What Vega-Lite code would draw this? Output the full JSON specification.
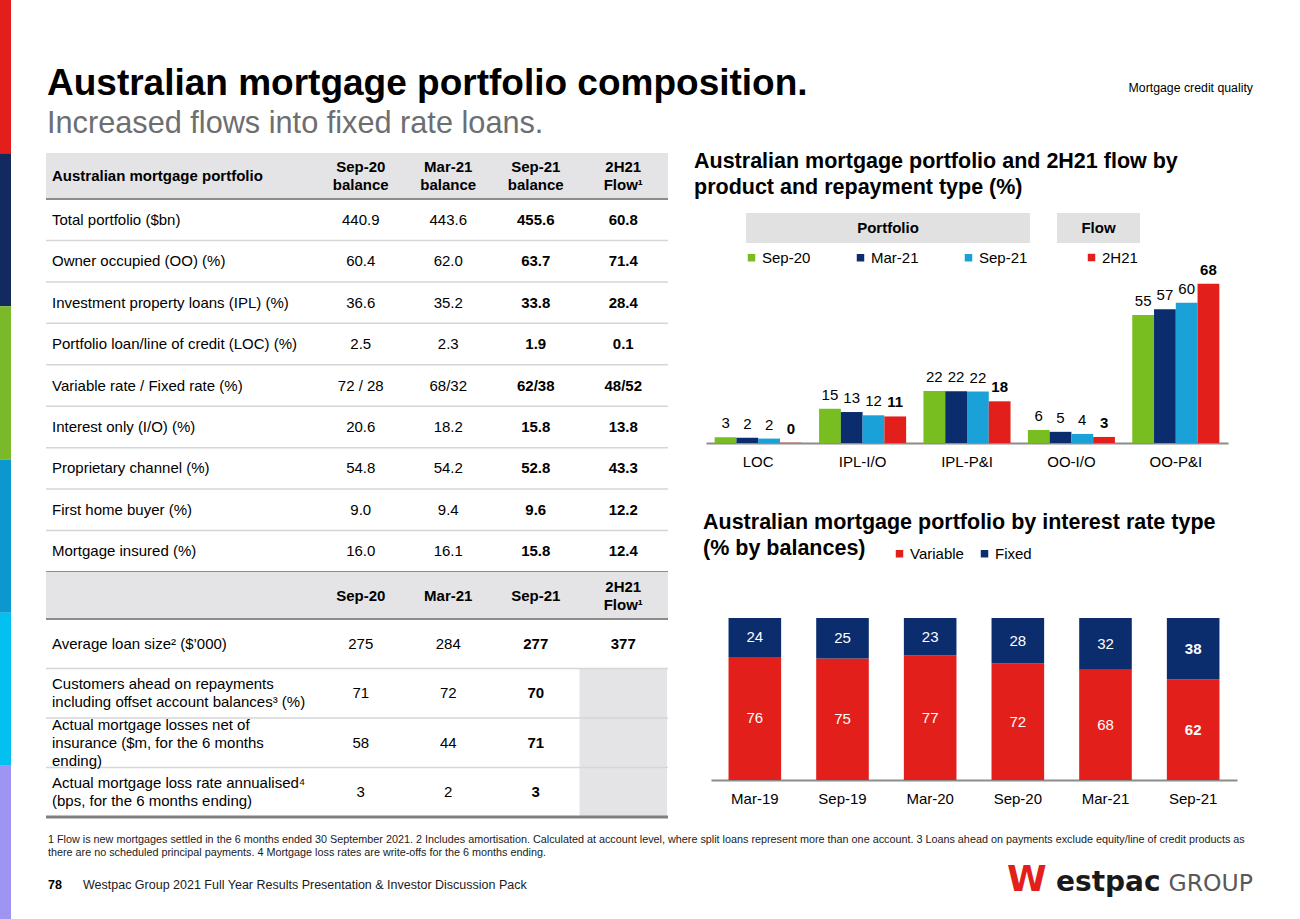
{
  "$schema": "https://vega.github.io/schema/vega-lite/v6.json",
  "background": "white",
  "padding": 0,
  "config": {
    "font": "Liberation Sans",
    "view": {"stroke": null},
    "text": {"font": "Liberation Sans", "color": "#000000"},
    "axis": {"labelFont": "Liberation Sans", "labelFontSize": 15, "labelColor": "#000000", "ticks": false, "grid": false, "domainColor": "#8c8c8c", "domainWidth": 2, "labelPadding": 11},
    "legend": {"labelFont": "Liberation Sans", "labelFontSize": 15, "labelColor": "#000000", "symbolType": "square", "symbolSize": 56, "symbolStrokeWidth": 0, "padding": 0, "labelOffset": 3}
  },
  "spacing": 33,
  "bounds": "full",
  "resolve": {"scale": {"color": "independent"}},
  "hconcat": [
    {
      "width": 11,
      "height": 919,
      "data": {"values": [{"seg": "a"}, {"seg": "b"}, {"seg": "c"}, {"seg": "d"}, {"seg": "e"}, {"seg": "f"}]},
      "mark": {"type": "rect"},
      "encoding": {
        "y": {"field": "seg", "type": "nominal", "axis": null, "scale": {"paddingInner": 0, "paddingOuter": 0}},
        "color": {"field": "seg", "type": "nominal", "legend": null, "scale": {"domain": ["a", "b", "c", "d", "e", "f"], "range": ["#e41f1b", "#132a5e", "#7ab929", "#0a98cf", "#02c0ef", "#9e95f2"]}}
      }
    },
    {
      "resolve": {"scale": {"color": "independent"}},
      "spacing": 0,
      "bounds": "full",
      "vconcat": [
        {
          "width": 1208,
          "height": 151,
          "data": {"values": [
            {"part": "title", "text": "Australian mortgage portfolio composition."},
            {"part": "subtitle", "text": "Increased flows into fixed rate loans."},
            {"part": "tag", "text": "Mortgage credit quality"}
          ]},
          "layer": [
            {
              "transform": [{"filter": "datum.part == 'title'"}],
              "mark": {"type": "text", "align": "left", "baseline": "alphabetic", "fontSize": 37, "fontWeight": "bold"},
              "encoding": {
                "x": {"field": "part", "type": "nominal", "axis": null, "scale": {"type": "point", "domain": ["title"], "range": [1, 1]}},
                "y": {"field": "part", "type": "nominal", "axis": null, "scale": {"type": "point", "domain": ["title"], "range": [95, 95]}},
                "text": {"field": "text", "type": "nominal"}
              }
            },
            {
              "transform": [{"filter": "datum.part == 'subtitle'"}],
              "mark": {"type": "text", "align": "left", "baseline": "alphabetic", "fontSize": 30.7, "color": "#6d6e71"},
              "encoding": {
                "x": {"field": "part", "type": "nominal", "axis": null, "scale": {"type": "point", "domain": ["subtitle"], "range": [1, 1]}},
                "y": {"field": "part", "type": "nominal", "axis": null, "scale": {"type": "point", "domain": ["subtitle"], "range": [133, 133]}},
                "text": {"field": "text", "type": "nominal"}
              }
            },
            {
              "transform": [{"filter": "datum.part == 'tag'"}],
              "mark": {"type": "text", "align": "right", "baseline": "alphabetic", "fontSize": 12.3},
              "encoding": {
                "x": {"field": "part", "type": "nominal", "axis": null, "scale": {"type": "point", "domain": ["tag"], "range": [1207, 1207]}},
                "y": {"field": "part", "type": "nominal", "axis": null, "scale": {"type": "point", "domain": ["tag"], "range": [92, 92]}},
                "text": {"field": "text", "type": "nominal"}
              }
            }
          ],
          "resolve": {"scale": {"x": "independent", "y": "independent"}}
        },
        {
          "resolve": {"scale": {"color": "independent"}},
          "spacing": 24,
          "bounds": "full",
          "hconcat": [
            {
              "spacing": 0,
              "bounds": "flush",
              "vconcat": [
                {
                  "width": 622,
                  "height": 46,
                  "view": {"fill": "#e4e4e6", "stroke": null},
                  "data": {"values": [
                    {"col": "label", "text": "Australian mortgage portfolio"},
                    {"col": "Sep-20", "text": "Sep-20\nbalance"},
                    {"col": "Mar-21", "text": "Mar-21\nbalance"},
                    {"col": "Sep-21", "text": "Sep-21\nbalance"},
                    {"col": "Flow", "text": "2H21\nFlow¹"}
                  ]},
                  "layer": [
                    {
                      "transform": [{"filter": "datum.col == 'label'"}],
                      "mark": {"type": "text", "align": "left", "baseline": "middle", "fontSize": 15, "fontWeight": "bold"},
                      "encoding": {
                        "x": {"field": "col", "type": "nominal", "axis": null, "scale": {"type": "point", "domain": ["label"], "range": [6, 6]}},
                        "text": {"field": "text", "type": "nominal"}
                      }
                    },
                    {
                      "transform": [{"filter": "datum.col != 'label'"}],
                      "mark": {"type": "text", "align": "center", "baseline": "middle", "dy": -9, "fontSize": 15, "fontWeight": "bold", "lineBreak": "\n", "lineHeight": 18},
                      "encoding": {
                        "x": {"field": "col", "type": "nominal", "axis": null, "scale": {"type": "band", "domain": ["Sep-20", "Mar-21", "Sep-21", "Flow"], "range": [271, 621], "paddingInner": 0, "paddingOuter": 0}},
                        "text": {"field": "text", "type": "nominal"}
                      }
                    }
                  ],
                  "resolve": {"scale": {"x": "independent"}}
                },
                {
                  "width": 622,
                  "height": 373,
                  "data": {"values": [
                    {"row": "Total portfolio ($bn)", "s20": "440.9", "m21": "443.6", "s21": "455.6", "flow": "60.8"},
                    {"row": "Owner occupied (OO) (%)", "s20": "60.4", "m21": "62.0", "s21": "63.7", "flow": "71.4"},
                    {"row": "Investment property loans (IPL) (%)", "s20": "36.6", "m21": "35.2", "s21": "33.8", "flow": "28.4"},
                    {"row": "Portfolio loan/line of credit (LOC) (%)", "s20": "2.5", "m21": "2.3", "s21": "1.9", "flow": "0.1"},
                    {"row": "Variable rate / Fixed rate (%)", "s20": "72 / 28", "m21": "68/32", "s21": "62/38", "flow": "48/52"},
                    {"row": "Interest only (I/O) (%)", "s20": "20.6", "m21": "18.2", "s21": "15.8", "flow": "13.8"},
                    {"row": "Proprietary channel (%)", "s20": "54.8", "m21": "54.2", "s21": "52.8", "flow": "43.3"},
                    {"row": "First home buyer (%)", "s20": "9.0", "m21": "9.4", "s21": "9.6", "flow": "12.2"},
                    {"row": "Mortgage insured (%)", "s20": "16.0", "m21": "16.1", "s21": "15.8", "flow": "12.4"}
                  ]},
                  "encoding": {
                    "y": {"field": "row", "type": "nominal", "axis": null, "scale": {"domain": ["Total portfolio ($bn)", "Owner occupied (OO) (%)", "Investment property loans (IPL) (%)", "Portfolio loan/line of credit (LOC) (%)", "Variable rate / Fixed rate (%)", "Interest only (I/O) (%)", "Proprietary channel (%)", "First home buyer (%)", "Mortgage insured (%)"], "paddingInner": 0, "paddingOuter": 0}}
                  },
                  "layer": [
                    {
                      "mark": {"type": "rule"},
                      "encoding": {
                        "y": {"field": "row", "type": "nominal", "axis": null, "bandPosition": 0, "scale": {"domain": ["Total portfolio ($bn)", "Owner occupied (OO) (%)", "Investment property loans (IPL) (%)", "Portfolio loan/line of credit (LOC) (%)", "Variable rate / Fixed rate (%)", "Interest only (I/O) (%)", "Proprietary channel (%)", "First home buyer (%)", "Mortgage insured (%)"], "paddingInner": 0, "paddingOuter": 0}},
                        "color": {"condition": {"test": "datum.row == 'Total portfolio ($bn)'", "value": "#8c8c8c"}, "value": "#d6d6d6"},
                        "strokeWidth": {"condition": {"test": "datum.row == 'Total portfolio ($bn)'", "value": 2}, "value": 1.5}
                      }
                    },
                    {
                      "mark": {"type": "rule", "color": "#8c8c8c", "strokeWidth": 2},
                      "encoding": {
                        "y": {"field": "row", "type": "nominal", "axis": null, "bandPosition": 1, "scale": {"domain": ["Total portfolio ($bn)", "Owner occupied (OO) (%)", "Investment property loans (IPL) (%)", "Portfolio loan/line of credit (LOC) (%)", "Variable rate / Fixed rate (%)", "Interest only (I/O) (%)", "Proprietary channel (%)", "First home buyer (%)", "Mortgage insured (%)"], "paddingInner": 0, "paddingOuter": 0}},
                        "opacity": {"condition": {"test": "datum.row == 'Mortgage insured (%)'", "value": 1}, "value": 0}
                      }
                    },
                    {
                      "mark": {"type": "text", "align": "left", "baseline": "middle", "fontSize": 15},
                      "encoding": {
                        "x": {"datum": "label", "type": "nominal", "axis": null, "scale": {"type": "point", "domain": ["label"], "range": [6, 6]}},
                        "text": {"field": "row", "type": "nominal"}
                      }
                    },
                    {
                      "layer": [
                        {"mark": {"type": "text", "baseline": "middle", "fontSize": 15}, "encoding": {"x": {"datum": "Sep-20", "type": "nominal", "axis": null, "scale": {"type": "band", "domain": ["Sep-20", "Mar-21", "Sep-21", "Flow"], "range": [271, 621], "paddingInner": 0, "paddingOuter": 0}}, "text": {"field": "s20", "type": "nominal"}}},
                        {"mark": {"type": "text", "baseline": "middle", "fontSize": 15}, "encoding": {"x": {"datum": "Mar-21", "type": "nominal", "axis": null, "scale": {"type": "band", "domain": ["Sep-20", "Mar-21", "Sep-21", "Flow"], "range": [271, 621], "paddingInner": 0, "paddingOuter": 0}}, "text": {"field": "m21", "type": "nominal"}}},
                        {"mark": {"type": "text", "baseline": "middle", "fontSize": 15, "fontWeight": "bold"}, "encoding": {"x": {"datum": "Sep-21", "type": "nominal", "axis": null, "scale": {"type": "band", "domain": ["Sep-20", "Mar-21", "Sep-21", "Flow"], "range": [271, 621], "paddingInner": 0, "paddingOuter": 0}}, "text": {"field": "s21", "type": "nominal"}}},
                        {"mark": {"type": "text", "baseline": "middle", "fontSize": 15, "fontWeight": "bold"}, "encoding": {"x": {"datum": "Flow", "type": "nominal", "axis": null, "scale": {"type": "band", "domain": ["Sep-20", "Mar-21", "Sep-21", "Flow"], "range": [271, 621], "paddingInner": 0, "paddingOuter": 0}}, "text": {"field": "flow", "type": "nominal"}}}
                      ]
                    }
                  ],
                  "resolve": {"scale": {"x": "independent"}}
                },
                {
                  "width": 622,
                  "height": 47,
                  "view": {"fill": "#e4e4e6", "stroke": null},
                  "data": {"values": [
                    {"col": "Sep-20", "text": "Sep-20"},
                    {"col": "Mar-21", "text": "Mar-21"},
                    {"col": "Sep-21", "text": "Sep-21"},
                    {"col": "Flow", "text": "2H21\nFlow¹"}
                  ]},
                  "encoding": {
                    "x": {"field": "col", "type": "nominal", "axis": null, "scale": {"type": "band", "domain": ["Sep-20", "Mar-21", "Sep-21", "Flow"], "range": [271, 621], "paddingInner": 0, "paddingOuter": 0}},
                    "text": {"field": "text", "type": "nominal"}
                  },
                  "layer": [
                    {"transform": [{"filter": "datum.col != 'Flow'"}], "mark": {"type": "text", "align": "center", "baseline": "middle", "fontSize": 15, "fontWeight": "bold"}},
                    {"transform": [{"filter": "datum.col == 'Flow'"}], "mark": {"type": "text", "align": "center", "baseline": "middle", "dy": -9, "fontSize": 15, "fontWeight": "bold", "lineBreak": "\n", "lineHeight": 18}}
                  ]
                },
                {
                  "width": 622,
                  "height": 198,
                  "data": {"values": [
                    {"row": "Average loan size² ($’000)", "s20": "275", "m21": "284", "s21": "277", "flow": "377"},
                    {"row": "Customers ahead on repayments\nincluding offset account balances³ (%)", "s20": "71", "m21": "72", "s21": "70", "flow": null},
                    {"row": "Actual mortgage losses net of\ninsurance ($m, for the 6 months\nending)", "s20": "58", "m21": "44", "s21": "71", "flow": null},
                    {"row": "Actual mortgage loss rate annualised⁴\n(bps, for the 6 months ending)", "s20": "3", "m21": "2", "s21": "3", "flow": null}
                  ]},
                  "encoding": {
                    "y": {"field": "row", "type": "nominal", "axis": null, "scale": {"domain": ["Average loan size² ($’000)", "Customers ahead on repayments\nincluding offset account balances³ (%)", "Actual mortgage losses net of\ninsurance ($m, for the 6 months\nending)", "Actual mortgage loss rate annualised⁴\n(bps, for the 6 months ending)"], "paddingInner": 0, "paddingOuter": 0}}
                  },
                  "layer": [
                    {
                      "transform": [{"filter": "datum.flow == null"}],
                      "mark": {"type": "rect", "color": "#e4e4e6"},
                      "encoding": {
                        "x": {"datum": "Flow", "type": "nominal", "axis": null, "scale": {"type": "band", "domain": ["Sep-20", "Mar-21", "Sep-21", "Flow"], "range": [271, 621], "paddingInner": 0, "paddingOuter": 0}}
                      }
                    },
                    {
                      "mark": {"type": "rule"},
                      "encoding": {
                        "y": {"field": "row", "type": "nominal", "axis": null, "bandPosition": 0, "scale": {"domain": ["Average loan size² ($’000)", "Customers ahead on repayments\nincluding offset account balances³ (%)", "Actual mortgage losses net of\ninsurance ($m, for the 6 months\nending)", "Actual mortgage loss rate annualised⁴\n(bps, for the 6 months ending)"], "paddingInner": 0, "paddingOuter": 0}},
                        "color": {"condition": {"test": "indexof(datum.row, 'Average') == 0", "value": "#8c8c8c"}, "value": "#d6d6d6"},
                        "strokeWidth": {"condition": {"test": "indexof(datum.row, 'Average') == 0", "value": 2}, "value": 1.5}
                      }
                    },
                    {
                      "mark": {"type": "rule", "color": "#808080", "strokeWidth": 3},
                      "encoding": {
                        "y": {"field": "row", "type": "nominal", "axis": null, "bandPosition": 1, "scale": {"domain": ["Average loan size² ($’000)", "Customers ahead on repayments\nincluding offset account balances³ (%)", "Actual mortgage losses net of\ninsurance ($m, for the 6 months\nending)", "Actual mortgage loss rate annualised⁴\n(bps, for the 6 months ending)"], "paddingInner": 0, "paddingOuter": 0}},
                        "opacity": {"condition": {"test": "indexof(datum.row, 'loss rate') >= 0", "value": 1}, "value": 0}
                      }
                    },
                    {
                      "encoding": {
                        "x": {"datum": "label", "type": "nominal", "axis": null, "scale": {"type": "point", "domain": ["label"], "range": [6, 6]}},
                        "text": {"field": "row", "type": "nominal"}
                      },
                      "layer": [
                        {"transform": [{"filter": "length(split(datum.row, '\\n')) == 1"}], "mark": {"type": "text", "align": "left", "baseline": "middle", "fontSize": 15}},
                        {"transform": [{"filter": "length(split(datum.row, '\\n')) == 2"}], "mark": {"type": "text", "align": "left", "baseline": "middle", "dy": -9, "fontSize": 15, "lineBreak": "\n", "lineHeight": 18}},
                        {"transform": [{"filter": "length(split(datum.row, '\\n')) == 3"}], "mark": {"type": "text", "align": "left", "baseline": "middle", "dy": -18, "fontSize": 15, "lineBreak": "\n", "lineHeight": 18}}
                      ]
                    },
                    {
                      "layer": [
                        {"mark": {"type": "text", "baseline": "middle", "fontSize": 15}, "encoding": {"x": {"datum": "Sep-20", "type": "nominal", "axis": null, "scale": {"type": "band", "domain": ["Sep-20", "Mar-21", "Sep-21", "Flow"], "range": [271, 621], "paddingInner": 0, "paddingOuter": 0}}, "text": {"field": "s20", "type": "nominal"}}},
                        {"mark": {"type": "text", "baseline": "middle", "fontSize": 15}, "encoding": {"x": {"datum": "Mar-21", "type": "nominal", "axis": null, "scale": {"type": "band", "domain": ["Sep-20", "Mar-21", "Sep-21", "Flow"], "range": [271, 621], "paddingInner": 0, "paddingOuter": 0}}, "text": {"field": "m21", "type": "nominal"}}},
                        {"mark": {"type": "text", "baseline": "middle", "fontSize": 15, "fontWeight": "bold"}, "encoding": {"x": {"datum": "Sep-21", "type": "nominal", "axis": null, "scale": {"type": "band", "domain": ["Sep-20", "Mar-21", "Sep-21", "Flow"], "range": [271, 621], "paddingInner": 0, "paddingOuter": 0}}, "text": {"field": "s21", "type": "nominal"}}},
                        {"transform": [{"filter": "datum.flow != null"}], "mark": {"type": "text", "baseline": "middle", "fontSize": 15, "fontWeight": "bold"}, "encoding": {"x": {"datum": "Flow", "type": "nominal", "axis": null, "scale": {"type": "band", "domain": ["Sep-20", "Mar-21", "Sep-21", "Flow"], "range": [271, 621], "paddingInner": 0, "paddingOuter": 0}}, "text": {"field": "flow", "type": "nominal"}}}
                      ]
                    }
                  ],
                  "resolve": {"scale": {"x": "independent"}}
                }
              ]
            },
            {
              "resolve": {"scale": {"color": "independent"}},
              "spacing": 47,
              "bounds": "flush",
              "vconcat": [
                {
                  "width": 560,
                  "height": 290,
                  "layer": [
                    {
                      "data": {"values": [{"id": "t", "text": "Australian mortgage portfolio and 2H21 flow by\nproduct and repayment type (%)"}]},
                      "mark": {"type": "text", "align": "left", "baseline": "alphabetic", "fontSize": 21.5, "fontWeight": "bold", "lineBreak": "\n", "lineHeight": 26},
                      "encoding": {
                        "x": {"field": "id", "type": "nominal", "axis": null, "scale": {"type": "point", "domain": ["t"], "range": [0, 0]}},
                        "y": {"field": "id", "type": "nominal", "axis": null, "scale": {"type": "point", "domain": ["t"], "range": [15, 15]}},
                        "text": {"field": "text", "type": "nominal"}
                      }
                    },
                    {
                      "data": {"values": [{"box": "Portfolio"}]},
                      "encoding": {
                        "x": {"field": "box", "type": "nominal", "axis": null, "scale": {"type": "band", "domain": ["Portfolio"], "range": [52, 336], "paddingInner": 0, "paddingOuter": 0}},
                        "y": {"field": "box", "type": "nominal", "axis": null, "scale": {"type": "band", "domain": ["Portfolio"], "range": [60, 90], "paddingInner": 0, "paddingOuter": 0}}
                      },
                      "layer": [
                        {"mark": {"type": "rect", "color": "#e1e1e1"}},
                        {"mark": {"type": "text", "baseline": "middle", "fontSize": 15, "fontWeight": "bold"}, "encoding": {"text": {"field": "box", "type": "nominal"}}}
                      ]
                    },
                    {
                      "data": {"values": [{"box": "Flow"}]},
                      "encoding": {
                        "x": {"field": "box", "type": "nominal", "axis": null, "scale": {"type": "band", "domain": ["Flow"], "range": [363, 446], "paddingInner": 0, "paddingOuter": 0}},
                        "y": {"field": "box", "type": "nominal", "axis": null, "scale": {"type": "band", "domain": ["Flow"], "range": [60, 90], "paddingInner": 0, "paddingOuter": 0}}
                      },
                      "layer": [
                        {"mark": {"type": "rect", "color": "#e1e1e1"}},
                        {"mark": {"type": "text", "baseline": "middle", "fontSize": 15, "fontWeight": "bold"}, "encoding": {"text": {"field": "box", "type": "nominal"}}}
                      ]
                    },
                    {
                      "data": {"values": [
                        {"cat": "LOC", "series": "Sep-20", "value": 2.5},
                        {"cat": "LOC", "series": "Mar-21", "value": 2.3},
                        {"cat": "LOC", "series": "Sep-21", "value": 1.9},
                        {"cat": "LOC", "series": "2H21", "value": 0.1},
                        {"cat": "IPL-I/O", "series": "Sep-20", "value": 14.7},
                        {"cat": "IPL-I/O", "series": "Mar-21", "value": 13.3},
                        {"cat": "IPL-I/O", "series": "Sep-21", "value": 11.9},
                        {"cat": "IPL-I/O", "series": "2H21", "value": 11.4},
                        {"cat": "IPL-P&I", "series": "Sep-20", "value": 22.3},
                        {"cat": "IPL-P&I", "series": "Mar-21", "value": 22.2},
                        {"cat": "IPL-P&I", "series": "Sep-21", "value": 22.1},
                        {"cat": "IPL-P&I", "series": "2H21", "value": 17.9},
                        {"cat": "OO-I/O", "series": "Sep-20", "value": 5.6},
                        {"cat": "OO-I/O", "series": "Mar-21", "value": 4.8},
                        {"cat": "OO-I/O", "series": "Sep-21", "value": 3.9},
                        {"cat": "OO-I/O", "series": "2H21", "value": 2.6},
                        {"cat": "OO-P&I", "series": "Sep-20", "value": 55.0},
                        {"cat": "OO-P&I", "series": "Mar-21", "value": 57.4},
                        {"cat": "OO-P&I", "series": "Sep-21", "value": 60.2},
                        {"cat": "OO-P&I", "series": "2H21", "value": 68.4}
                      ]},
                      "encoding": {
                        "x": {"field": "cat", "type": "nominal", "scale": {"type": "band", "domain": ["LOC", "IPL-I/O", "IPL-P&I", "OO-I/O", "OO-P&I"], "range": [12, 534], "paddingInner": 0.166, "paddingOuter": 0.083}, "axis": {"title": null, "labelAngle": 0}},
                        "xOffset": {"field": "series", "type": "nominal", "scale": {"domain": ["Sep-20", "Mar-21", "Sep-21", "2H21"], "paddingInner": 0, "paddingOuter": 0}},
                        "y": {"field": "value", "type": "quantitative", "axis": null, "scale": {"domain": [0, 70], "range": [290, 127]}}
                      },
                      "layer": [
                        {
                          "transform": [{"filter": "datum.series != '2H21'"}],
                          "mark": {"type": "bar"},
                          "encoding": {
                            "color": {"field": "series", "type": "nominal", "scale": {"domain": ["Sep-20", "Mar-21", "Sep-21"], "range": ["#78be20", "#0b2d6d", "#1aa1d8"]}, "legend": {"title": null, "orient": "none", "legendX": 50, "legendY": 97, "direction": "horizontal", "columnPadding": 42}}
                          }
                        },
                        {
                          "transform": [{"filter": "datum.series == '2H21'"}],
                          "mark": {"type": "bar"},
                          "encoding": {
                            "color": {"field": "series", "type": "nominal", "scale": {"domain": ["2H21"], "range": ["#e21f1b"]}, "legend": {"title": null, "orient": "none", "legendX": 390, "legendY": 97, "direction": "horizontal"}}
                          }
                        },
                        {
                          "transform": [{"filter": "datum.series != '2H21'"}],
                          "mark": {"type": "text", "baseline": "alphabetic", "dy": -9, "fontSize": 15},
                          "encoding": {"text": {"field": "value", "type": "quantitative", "format": ".0f"}}
                        },
                        {
                          "transform": [{"filter": "datum.series == '2H21'"}],
                          "mark": {"type": "text", "baseline": "alphabetic", "dy": -9, "fontSize": 15, "fontWeight": "bold"},
                          "encoding": {"text": {"field": "value", "type": "quantitative", "format": ".0f"}}
                        }
                      ],
                      "resolve": {"scale": {"color": "independent"}}
                    }
                  ],
                  "resolve": {"scale": {"x": "independent", "y": "independent"}}
                },
                {
                  "width": 560,
                  "height": 290,
                  "layer": [
                    {
                      "data": {"values": [{"id": "t", "text": "Australian mortgage portfolio by interest rate type\n(% by balances)"}]},
                      "mark": {"type": "text", "align": "left", "baseline": "alphabetic", "fontSize": 21.5, "fontWeight": "bold", "lineBreak": "\n", "lineHeight": 26},
                      "encoding": {
                        "x": {"field": "id", "type": "nominal", "axis": null, "scale": {"type": "point", "domain": ["t"], "range": [9, 9]}},
                        "y": {"field": "id", "type": "nominal", "axis": null, "scale": {"type": "point", "domain": ["t"], "range": [39, 39]}},
                        "text": {"field": "text", "type": "nominal"}
                      }
                    },
                    {
                      "data": {"values": [
                        {"period": "Mar-19", "type": "Variable", "value": 76},
                        {"period": "Mar-19", "type": "Fixed", "value": 24},
                        {"period": "Sep-19", "type": "Variable", "value": 75},
                        {"period": "Sep-19", "type": "Fixed", "value": 25},
                        {"period": "Mar-20", "type": "Variable", "value": 77},
                        {"period": "Mar-20", "type": "Fixed", "value": 23},
                        {"period": "Sep-20", "type": "Variable", "value": 72},
                        {"period": "Sep-20", "type": "Fixed", "value": 28},
                        {"period": "Mar-21", "type": "Variable", "value": 68},
                        {"period": "Mar-21", "type": "Fixed", "value": 32},
                        {"period": "Sep-21", "type": "Variable", "value": 62},
                        {"period": "Sep-21", "type": "Fixed", "value": 38}
                      ]},
                      "encoding": {
                        "x": {"field": "period", "type": "nominal", "scale": {"type": "band", "domain": ["Mar-19", "Sep-19", "Mar-20", "Sep-20", "Mar-21", "Sep-21"], "range": [17, 543], "paddingInner": 0.4, "paddingOuter": 0.2}, "axis": {"title": null, "labelAngle": 0}},
                        "y": {"field": "value", "type": "quantitative", "stack": "zero", "axis": null, "scale": {"domain": [0, 100], "range": [290, 128]}},
                        "order": {"field": "type", "sort": "descending"}
                      },
                      "layer": [
                        {
                          "mark": {"type": "bar"},
                          "encoding": {
                            "color": {"field": "type", "type": "nominal", "scale": {"domain": ["Variable", "Fixed"], "range": ["#e21f1b", "#0b2d6d"]}, "legend": {"title": null, "orient": "none", "legendX": 198, "legendY": 56, "direction": "horizontal", "columnPadding": 13}}
                          }
                        },
                        {
                          "transform": [{"filter": "datum.period != 'Sep-21'"}],
                          "mark": {"type": "text", "baseline": "middle", "fontSize": 15, "color": "#ffffff"},
                          "encoding": {
                            "y": {"field": "value", "type": "quantitative", "stack": "zero", "bandPosition": 0.5, "axis": null, "scale": {"domain": [0, 100], "range": [290, 128]}},
                            "text": {"field": "value", "type": "quantitative"}
                          }
                        },
                        {
                          "transform": [{"filter": "datum.period == 'Sep-21'"}],
                          "mark": {"type": "text", "baseline": "middle", "fontSize": 15, "fontWeight": "bold", "color": "#ffffff"},
                          "encoding": {
                            "y": {"field": "value", "type": "quantitative", "stack": "zero", "bandPosition": 0.5, "axis": null, "scale": {"domain": [0, 100], "range": [290, 128]}},
                            "text": {"field": "value", "type": "quantitative"}
                          }
                        }
                      ]
                    }
                  ],
                  "resolve": {"scale": {"x": "independent", "y": "independent"}}
                }
              ]
            }
          ]
        },
        {
          "width": 1208,
          "height": 101,
          "data": {"values": [
            {"part": "note", "text": "1 Flow is new mortgages settled in the 6 months ended 30 September 2021. 2 Includes amortisation. Calculated at account level, where split loans represent more than one account. 3 Loans ahead on payments exclude equity/line of credit products as\nthere are no scheduled principal payments. 4 Mortgage loss rates are write-offs for the 6 months ending."},
            {"part": "page", "text": "78"},
            {"part": "source", "text": "Westpac Group 2021 Full Year Results Presentation & Investor Discussion Pack"},
            {"part": "logoW", "text": "W"},
            {"part": "logoA", "text": "estpac"},
            {"part": "logoB", "text": "GROUP"}
          ]},
          "layer": [
            {
              "transform": [{"filter": "datum.part == 'note'"}],
              "mark": {"type": "text", "align": "left", "baseline": "alphabetic", "fontSize": 10.8, "lineBreak": "\n", "lineHeight": 13, "color": "#1a1a1a"},
              "encoding": {
                "x": {"field": "part", "type": "nominal", "axis": null, "scale": {"type": "point", "domain": ["note"], "range": [2, 2]}},
                "y": {"field": "part", "type": "nominal", "axis": null, "scale": {"type": "point", "domain": ["note"], "range": [24, 24]}},
                "text": {"field": "text", "type": "nominal"}
              }
            },
            {
              "transform": [{"filter": "datum.part == 'page'"}],
              "mark": {"type": "text", "align": "left", "baseline": "alphabetic", "fontSize": 12.5, "fontWeight": "bold"},
              "encoding": {
                "x": {"field": "part", "type": "nominal", "axis": null, "scale": {"type": "point", "domain": ["page"], "range": [2, 2]}},
                "y": {"field": "part", "type": "nominal", "axis": null, "scale": {"type": "point", "domain": ["page"], "range": [70, 70]}},
                "text": {"field": "text", "type": "nominal"}
              }
            },
            {
              "transform": [{"filter": "datum.part == 'source'"}],
              "mark": {"type": "text", "align": "left", "baseline": "alphabetic", "fontSize": 12.5, "color": "#1a1a1a"},
              "encoding": {
                "x": {"field": "part", "type": "nominal", "axis": null, "scale": {"type": "point", "domain": ["source"], "range": [37, 37]}},
                "y": {"field": "part", "type": "nominal", "axis": null, "scale": {"type": "point", "domain": ["source"], "range": [70, 70]}},
                "text": {"field": "text", "type": "nominal"}
              }
            },
            {
              "transform": [{"filter": "datum.part == 'logoW'"}],
              "mark": {"type": "text", "align": "left", "baseline": "alphabetic", "fontSize": 36, "fontWeight": "bold", "font": "DejaVu Sans", "color": "#e21f1b"},
              "encoding": {
                "x": {"field": "part", "type": "nominal", "axis": null, "scale": {"type": "point", "domain": ["logoW"], "range": [961, 961]}},
                "y": {"field": "part", "type": "nominal", "axis": null, "scale": {"type": "point", "domain": ["logoW"], "range": [72, 72]}},
                "text": {"field": "text", "type": "nominal"}
              }
            },
            {
              "transform": [{"filter": "datum.part == 'logoA'"}],
              "mark": {"type": "text", "align": "left", "baseline": "alphabetic", "fontSize": 28, "fontWeight": "bold", "font": "DejaVu Sans", "color": "#1a1a1a"},
              "encoding": {
                "x": {"field": "part", "type": "nominal", "axis": null, "scale": {"type": "point", "domain": ["logoA"], "range": [1010, 1010]}},
                "y": {"field": "part", "type": "nominal", "axis": null, "scale": {"type": "point", "domain": ["logoA"], "range": [72, 72]}},
                "text": {"field": "text", "type": "nominal"}
              }
            },
            {
              "transform": [{"filter": "datum.part == 'logoB'"}],
              "mark": {"type": "text", "align": "right", "baseline": "alphabetic", "fontSize": 23.5, "font": "DejaVu Sans", "color": "#58595b"},
              "encoding": {
                "x": {"field": "part", "type": "nominal", "axis": null, "scale": {"type": "point", "domain": ["logoB"], "range": [1207, 1207]}},
                "y": {"field": "part", "type": "nominal", "axis": null, "scale": {"type": "point", "domain": ["logoB"], "range": [72, 72]}},
                "text": {"field": "text", "type": "nominal"}
              }
            }
          ],
          "resolve": {"scale": {"x": "independent", "y": "independent"}}
        }
      ]
    }
  ]
}
